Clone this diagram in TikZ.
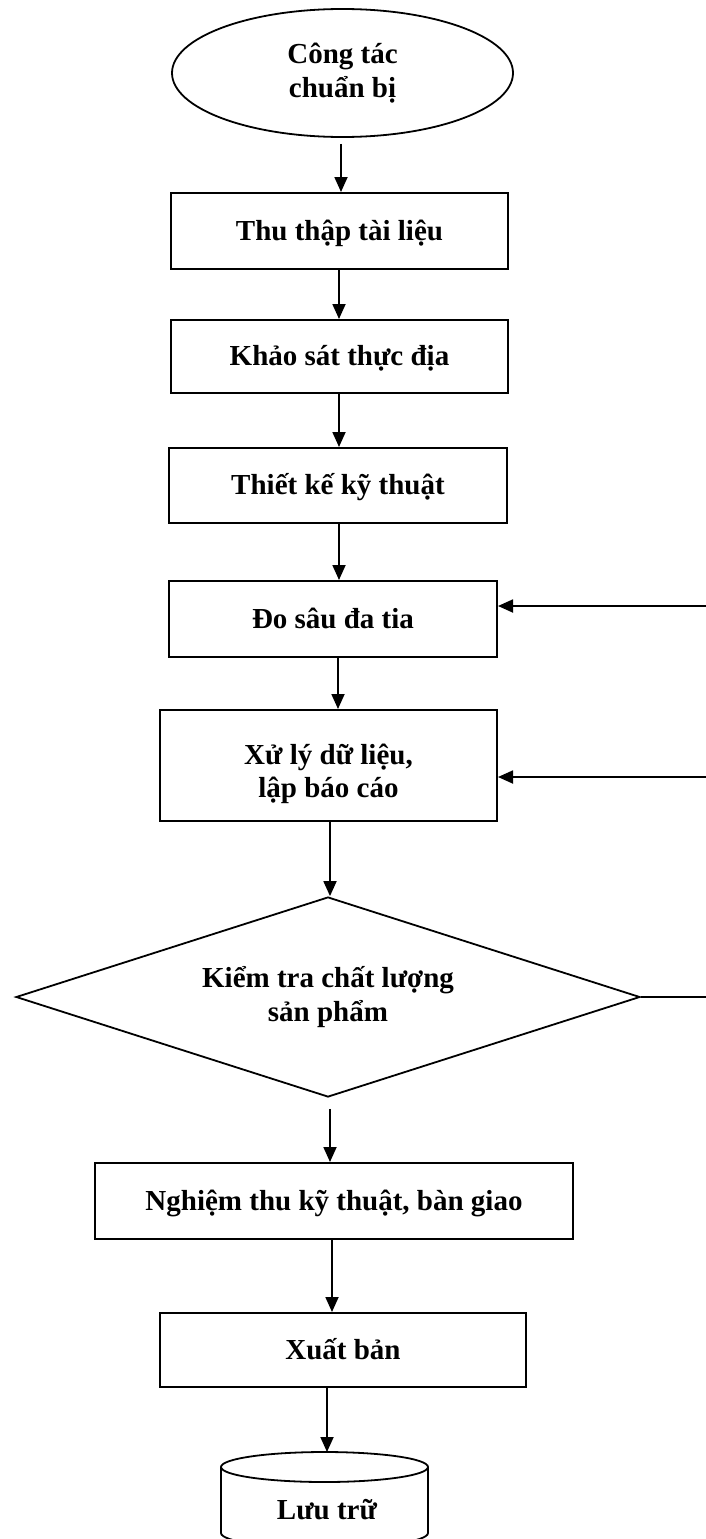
\documentclass[tikz,border=0pt]{standalone}
\usepackage{fontspec}
\setmainfont{Liberation Serif}
\usetikzlibrary{arrows.meta,shapes.geometric}
\begin{document}
\begin{tikzpicture}[x=1pt,y=-1pt,
  every node/.style={font=\fontsize{29}{33.5}\selectfont\bfseries, inner sep=0pt},
  box/.style={draw, rectangle, line width=2pt, text height=18pt, text depth=0pt},
  multibox/.style={draw, line width=2pt, align=center},
  arr/.style={line width=1.8pt, -{Triangle[length=15pt,width=13pt]}},
  ln/.style={line width=1.8pt}]
\useasboundingbox (0,0) rectangle (705,1539);
\fill[white] (0,0) rectangle (705,1539);

% nodes
\node[multibox, ellipse, line width=1.8pt, minimum width=341pt, minimum height=128pt] (ell) at (342.5,73) {Công tác\\chuẩn bị};
\node[box, minimum width=337pt, minimum height=76pt] (b1) at (339.5,231) {Thu thập tài liệu};
\node[box, minimum width=337pt, minimum height=73pt] (b2) at (339.5,356.5) {Khảo sát thực địa};
\node[box, minimum width=338pt, minimum height=75pt] (b3) at (338,485.5) {Thiết kế kỹ thuật};
\node[box, minimum width=328pt, minimum height=76pt] (b4) at (333,619) {Đo sâu đa tia};
\node[multibox, minimum width=337pt, minimum height=111pt] (b5) at (328.5,765.5) {\rule{0pt}{37pt}Xử lý dữ liệu,\\lập báo cáo};
\node[multibox, diamond, aspect=3, line width=1.8pt, minimum width=624pt, minimum height=200pt] (dia) at (328,997) {Kiểm tra chất lượng\\sản phẩm};
\node[box, minimum width=478pt, minimum height=76pt] (b6) at (334,1201) {Nghiệm thu kỹ thuật, bàn giao};
\node[box, minimum width=366pt, minimum height=74pt] (b7) at (343,1350) {Xuất bản};

% cylinder
\draw[ln] (221,1467) -- (221,1533) arc[start angle=180,end angle=360,x radius=103.5pt,y radius=15pt] -- (428,1467);
\draw[ln] (324.5,1467) ellipse[x radius=103.5pt, y radius=15pt];
\node[anchor=base] (cyl) at (327,1519) {Lưu trữ};
\coordinate (cyltop) at (327,1452);

% columns
\coordinate (c341) at (341,0);
\coordinate (c339) at (339,0);
\coordinate (c338) at (338,0);
\coordinate (c330) at (330,0);
\coordinate (c332) at (332,0);
\coordinate (c327) at (327,0);

% connectors
\draw[arr] (ell.south -| c341) ++(0,6) -- (b1.north -| c341);
\draw[arr] (b1.south -| c339) -- (b2.north -| c339);
\draw[arr] (b2.south -| c339) -- (b3.north -| c339);
\draw[arr] (b3.south -| c339) -- (b4.north -| c339);
\draw[arr] (b4.south -| c338) -- (b5.north -| c338);
\draw[arr] (b5.south -| c330) -- (dia.north -| c330);
\draw[arr] (dia.south -| c330) ++(0,11) -- (b6.north -| c330);
\draw[arr] (b6.south -| c332) -- (b7.north -| c332);
\draw[arr] (b7.south -| c327) -- (cyltop);

% feedback lines to the right edge
\coordinate (r1) at (706,606);
\coordinate (r2) at (706,777);
\draw[arr] (r1) -- (b4.east |- r1);
\draw[arr] (r2) -- (b5.east |- r2);
\draw[ln] (dia.east) -- (dia.east -| r1);
\end{tikzpicture}
\end{document}
